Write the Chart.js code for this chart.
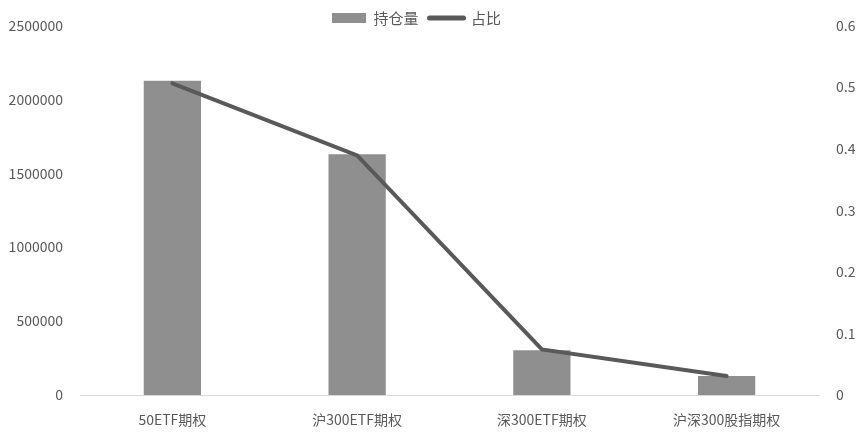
<!DOCTYPE html>
<html>
<head>
<meta charset="utf-8">
<script src="https://cdn.jsdelivr.net/npm/chart.js@4.4.0/dist/chart.umd.min.js"></script>
<style>
  html, body { margin: 0; padding: 0; background: #fff; }
  #wrap { width: 863px; height: 436px; position: relative; }
</style>
</head>
<body>
<div id="wrap"><canvas id="chart"></canvas></div>
<script>
const categories = ['50ETF期权', '沪300ETF期权', '深300ETF期权', '沪深300股指期权'];
const holdings = [2125000, 1628000, 303000, 128000];
const shares = [0.506, 0.389, 0.074, 0.031];
const leftTicks = [0, 500000, 1000000, 1500000, 2000000, 2500000];
const rightTicks = [0, 0.1, 0.2, 0.3, 0.4, 0.5, 0.6];

const textColor = '#595959';
const fontFamily = '"Noto Sans CJK SC", "Noto Sans", sans-serif';

// legend sits a bit left of centre and overlaps the top of the plot, like the original
const legendTweak = {
  id: 'legendTweak',
  beforeLayout(chart) {
    const lg = chart.legend;
    if (lg && !lg._fitWrapped) {
      const fit = lg.fit;
      lg.fit = function () {
        fit.call(this);
        this.height = 17;
      };
      lg._fitWrapped = true;
    }
  },
  afterLayout(chart) {
    const lg = chart.legend;
    if (!lg) return;
    lg.left -= 15;
    lg.right -= 15;
    lg.top -= 9;
    lg.height = 34;
    lg.bottom = lg.top + 34;
  }
};

const ctx = document.getElementById('chart').getContext('2d');
new Chart(ctx, {
  type: 'bar',
  data: {
    labels: categories,
    datasets: [{
      label: '持仓量',
      data: holdings,
      backgroundColor: '#8f8f8f',
      borderWidth: 0,
      categoryPercentage: 1,
      barPercentage: 0.31,
      yAxisID: 'y',
      order: 2
    }, {
      label: '占比',
      data: shares,
      type: 'line',
      borderColor: '#595959',
      backgroundColor: '#595959',
      borderWidth: 4,
      borderCapStyle: 'round',
      pointRadius: 0,
      tension: 0,
      fill: false,
      yAxisID: 'y1',
      order: 1
    }]
  },
  options: {
    responsive: true,
    maintainAspectRatio: false,
    animation: false,
    layout: { padding: 0 },
    scales: {
      x: {
        grid: { display: false, drawTicks: false },
        border: { display: true, color: '#d9d9d9', width: 1 },
        ticks: { color: textColor, font: { family: fontFamily, size: 14 }, padding: 16, maxRotation: 0 },
        afterFit: (scale) => { scale.height = 41; }
      },
      y: {
        position: 'left',
        min: 0,
        max: 2500000,
        grid: { display: false, drawTicks: false },
        border: { display: false },
        afterBuildTicks: (scale) => { scale.ticks = leftTicks.map(v => ({ value: v })); },
        ticks: {
          color: textColor,
          font: { family: fontFamily, size: 14 },
          padding: 17,
          callback: (v) => String(v)
        },
        afterFit: (scale) => { scale.width = 80; }
      },
      y1: {
        position: 'right',
        min: 0,
        max: 0.6,
        grid: { display: false, drawTicks: false },
        border: { display: false },
        afterBuildTicks: (scale) => { scale.ticks = rightTicks.map(v => ({ value: v })); },
        ticks: {
          color: textColor,
          font: { family: fontFamily, size: 14 },
          padding: 17,
          callback: (v) => String(Math.round(v * 10) / 10)
        },
        afterFit: (scale) => { scale.width = 44; }
      }
    },
    plugins: {
      tooltip: { enabled: false },
      legend: {
        display: true,
        position: 'top',
        labels: {
          color: textColor,
          font: { family: fontFamily, size: 15 },
          usePointStyle: true,
          pointStyleWidth: 34,
          boxHeight: 10,
          padding: 11,
          sort: (a, b) => a.datasetIndex - b.datasetIndex,
          generateLabels: (chart) => {
            const items = Chart.defaults.plugins.legend.labels.generateLabels(chart);
            items.forEach(it => {
              if (it.datasetIndex === 0) {
                it.pointStyle = 'rect';
                it.lineWidth = 0;
              } else {
                it.pointStyle = 'line';
                it.lineWidth = 5;
                it.lineCap = 'round';
              }
            });
            return items;
          }
        }
      }
    }
  },
  plugins: [legendTweak]
});
</script>
</body>
</html>
